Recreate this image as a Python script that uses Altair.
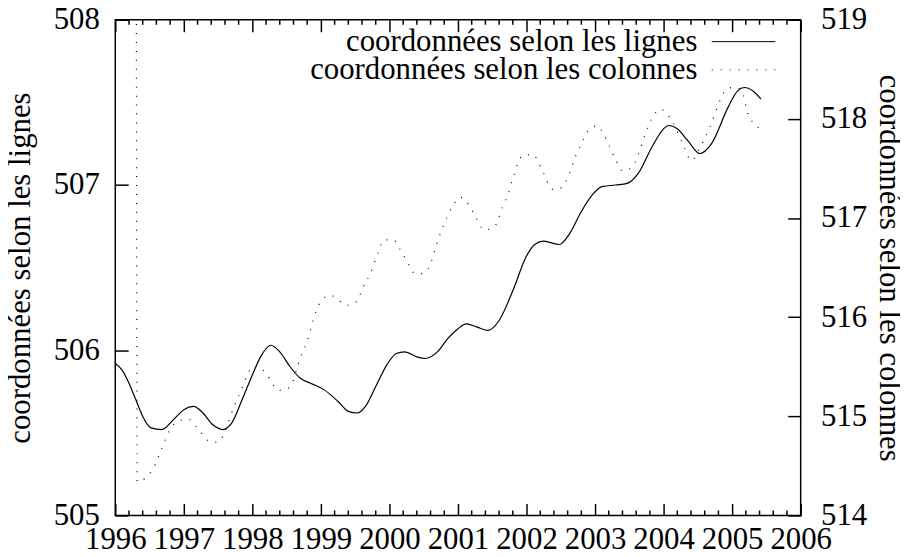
import altair as alt
import pandas as pd

FONT = "Liberation Serif"
FS = 31
LIGNES = "coordonnées selon les lignes"
COLONNES = "coordonnées selon les colonnes"

# ---- série "lignes" (axe de gauche) ----
annees_lignes = [1996.00, 1996.10, 1996.20, 1996.30, 1996.40, 1996.52, 1996.68, 1996.85,
                 1997.00, 1997.14, 1997.28, 1997.42, 1997.57, 1997.70, 1997.85, 1998.00,
                 1998.12, 1998.27, 1998.40, 1998.55, 1998.70, 1998.85, 1999.05, 1999.25,
                 1999.40, 1999.53, 1999.65, 1999.80, 1999.96, 2000.10, 2000.22, 2000.40,
                 2000.52, 2000.70, 2000.85, 2001.00, 2001.12, 2001.28, 2001.44, 2001.60,
                 2001.80, 2002.00, 2002.12, 2002.25, 2002.48, 2002.62, 2002.80, 2002.96,
                 2003.10, 2003.30, 2003.47, 2003.63, 2003.83, 2004.00, 2004.07, 2004.20,
                 2004.35, 2004.53, 2004.70, 2004.94, 2005.08, 2005.18, 2005.30, 2005.42]
valeurs_lignes = [505.92, 505.88, 505.80, 505.70, 505.60, 505.53, 505.52, 505.58,
                  505.64, 505.66, 505.62, 505.55, 505.52, 505.56, 505.70, 505.85,
                  505.96, 506.03, 505.99, 505.90, 505.83, 505.80, 505.76, 505.69,
                  505.63, 505.62, 505.66, 505.78, 505.91, 505.98, 505.99, 505.96,
                  505.95, 505.99, 506.07, 506.13, 506.16, 506.14, 506.12, 506.18,
                  506.36, 506.57, 506.64, 506.66, 506.64, 506.70, 506.84, 506.94,
                  506.99, 507.00, 507.01, 507.07, 507.23, 507.34, 507.36, 507.34,
                  507.27, 507.19, 507.25, 507.47, 507.57, 507.59, 507.57, 507.52]

# ---- série "colonnes" (axe de droite) ----
annees_colonnes = [1996.30, 1996.32, 1996.46, 1996.55, 1996.68, 1996.82, 1996.95, 1997.07,
                   1997.20, 1997.40, 1997.50, 1997.62, 1997.69, 1997.84, 1997.96, 1998.08,
                   1998.20, 1998.39, 1998.54, 1998.71, 1998.80, 1998.93, 1999.00, 1999.14,
                   1999.38, 1999.53, 1999.60, 1999.72, 1999.84, 1999.92, 2000.06, 2000.15,
                   2000.30, 2000.37, 2000.49, 2000.59, 2000.69, 2000.81, 2000.93, 2001.03,
                   2001.15, 2001.22, 2001.39, 2001.53, 2001.65, 2001.73, 2001.82, 2001.94,
                   2002.09, 2002.23, 2002.38, 2002.52, 2002.62, 2002.72, 2002.79, 2002.91,
                   2003.03, 2003.13, 2003.20, 2003.30, 2003.39, 2003.54, 2003.63, 2003.73,
                   2003.85, 2003.95, 2004.05, 2004.14, 2004.26, 2004.41, 2004.53, 2004.65,
                   2004.75, 2004.82, 2004.92, 2005.04, 2005.14, 2005.24, 2005.36, 2005.45]
valeurs_colonnes = [525.00, 514.34, 514.39, 514.47, 514.68, 514.89, 514.96, 514.97,
                    514.88, 514.74, 514.74, 514.88, 515.02, 515.27, 515.46, 515.51,
                    515.43, 515.26, 515.29, 515.61, 515.76, 516.06, 516.16, 516.22,
                    516.12, 516.16, 516.28, 516.44, 516.66, 516.78, 516.78, 516.69,
                    516.51, 516.44, 516.44, 516.52, 516.74, 516.96, 517.13, 517.21,
                    517.14, 517.06, 516.88, 516.91, 517.11, 517.24, 517.44, 517.63,
                    517.64, 517.48, 517.29, 517.31, 517.44, 517.63, 517.73, 517.89,
                    517.93, 517.84, 517.74, 517.59, 517.48, 517.51, 517.64, 517.84,
                    518.03, 518.10, 518.05, 517.96, 517.78, 517.58, 517.71, 517.88,
                    518.05, 518.18, 518.30, 518.32, 518.28, 518.03, 517.93, 517.84]

# ---- graduations ----
x_majeures = [1996, 1997, 1998, 1999, 2000, 2001, 2002, 2003, 2004, 2005, 2006]
x_mineures = [1996.2, 1996.4, 1996.6, 1996.8, 1997.2, 1997.4, 1997.6, 1997.8,
              1998.2, 1998.4, 1998.6, 1998.8, 1999.2, 1999.4, 1999.6, 1999.8,
              2000.2, 2000.4, 2000.6, 2000.8, 2001.2, 2001.4, 2001.6, 2001.8,
              2002.2, 2002.4, 2002.6, 2002.8, 2003.2, 2003.4, 2003.6, 2003.8,
              2004.2, 2004.4, 2004.6, 2004.8, 2005.2, 2005.4, 2005.6, 2005.8]
y_gauche = [505, 506, 507, 508]
y_droite = [514, 515, 516, 517, 518, 519]

df_l = pd.DataFrame({"annee": annees_lignes, "valeur": valeurs_lignes, "serie": LIGNES})
df_c = pd.DataFrame({"annee": annees_colonnes, "valeur": valeurs_colonnes, "serie": COLONNES})

W, H = 690, 499
MAJ_X, MIN_X, MAJ_Y = 12, 5, 13
xscale = alt.Scale(domain=[1996, 2006], nice=False, zero=False)
yl = alt.Scale(domain=[505, 508], nice=False, zero=False)
yr = alt.Scale(domain=[514, 519], nice=False, zero=False)


def legende(y):
    return alt.Legend(
        title=None, orient="none", legendX=600, legendY=y,
        symbolType="stroke", symbolSize=4096, symbolStrokeWidth=1,
        symbolStrokeColor="black", labelFont=FONT, labelFontSize=FS,
        labelColor="black", labelAlign="right", labelOffset=alt.ExprRef("-79"),
        labelLimit=600, padding=0,
    )


txt = dict(labelFont=FONT, labelFontSize=FS, labelColor="black",
           titleFont=FONT, titleFontSize=FS, titleColor="black",
           titleFontWeight="normal", domain=False,
           labelFlush=False, labelOverlap=False, grid=False,
           tickColor="black", tickWidth=1.5)

# axes déplacés vers l'intérieur (offset négatif) => graduations intérieures
solid = alt.Chart(df_l).mark_line(
    strokeWidth=1.2, interpolate="monotone", clip=True
).encode(
    x=alt.X("annee:Q", scale=xscale, axis=alt.Axis(
        orient="bottom", values=x_majeures, format="d", labelPadding=9,
        ticks=True, tickSize=MAJ_X, offset=-MAJ_X, title=None, **txt)),
    y=alt.Y("valeur:Q", scale=yl, axis=alt.Axis(
        orient="left", values=y_gauche, format="d", labelPadding=16,
        ticks=True, tickSize=MAJ_Y, offset=-MAJ_Y,
        title=LIGNES, titlePadding=17, **txt)),
    color=alt.Color("serie:N", scale=alt.Scale(domain=[LIGNES], range=["black"]),
                    legend=legende(-10.5)),
)

dotted = alt.Chart(df_c).mark_line(
    color="black", strokeWidth=1.2, interpolate="monotone", clip=True
).encode(
    x=alt.X("annee:Q", scale=xscale, axis=alt.Axis(
        orient="top", values=x_majeures, labels=False, ticks=True,
        tickSize=MAJ_X, offset=-MAJ_X, title=None, **txt)),
    y=alt.Y("valeur:Q", scale=yr, axis=alt.Axis(
        orient="right", values=y_droite, format="d", labelPadding=20,
        ticks=True, tickSize=MAJ_Y, offset=-MAJ_Y,
        title=COLONNES, titlePadding=6, **txt)),
    strokeDash=alt.StrokeDash("serie:N", scale=alt.Scale(domain=[COLONNES], range=[[1, 8]]),
                              legend=legende(18)),
)


# petites graduations intérieures, placées par l'échelle des x
def x_mineurs(y0, y1):
    return alt.Chart(pd.DataFrame({"t": x_mineures})).mark_rule(
        color="black", strokeWidth=1.5, opacity=1
    ).encode(
        x=alt.X("t:Q", scale=xscale, axis=None),
        y=alt.value(y0), y2=alt.value(y1),
    )


chart = alt.layer(
    x_mineurs(H - MIN_X, H), x_mineurs(0, MIN_X),
    solid, dotted,
).resolve_scale(
    y="independent"
).resolve_axis(
    x="independent", y="independent"
).properties(
    width=W, height=H,
    autosize=alt.AutoSizeParams(type="none"),
    padding={"left": 108, "top": 10, "right": 100, "bottom": 44},
).configure_view(
    stroke="black", strokeWidth=1.5
)

chart.save("out.html", embed_options={"renderer": "svg", "actions": False})
